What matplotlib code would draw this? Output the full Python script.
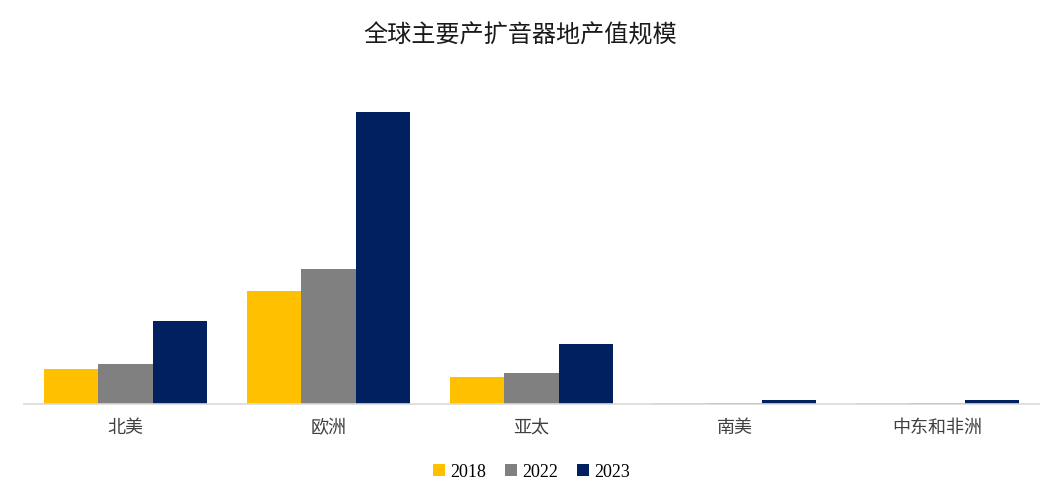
import matplotlib
matplotlib.use("Agg")
import matplotlib.pyplot as plt
import numpy as np

categories = ["北美", "欧洲", "亚太", "南美", "中东和非洲"]
series_names = ["2018", "2022", "2023"]
v2018 = [35, 113, 27, 1.2, 1.2]
v2022 = [40, 135, 31, 0.8, 0.8]
v2023 = [83, 292, 60, 4.0, 4.0]
colors = ["#FFC000", "#808080", "#002060"]

plt.rcParams['font.family'] = ['Noto Sans CJK SC', 'DejaVu Sans']

fig = plt.figure(figsize=(10.63, 5.02), dpi=100)
ax = fig.add_axes([0.0226, 0.193, 0.9548, 0.614])

x = np.arange(len(categories))
w = 0.267
for i, (vals, name, c) in enumerate(zip([v2018, v2022, v2023], series_names, colors)):
    ax.bar(x + (i - 1) * w, vals, width=w, color=c, label=name)

ax.set_xlim(-0.5, len(categories) - 0.5)
ax.set_ylim(0, 308)
ax.set_yticks([])
ax.set_xticks(x)
ax.set_xticklabels(categories, fontsize=13, color="#404040")
ax.tick_params(axis='x', length=0, pad=10)
for s in ["top", "right", "left"]:
    ax.spines[s].set_visible(False)
ax.spines["bottom"].set_color("#D9D9D9")
ax.spines["bottom"].set_linewidth(1.2)

fig.text(0.489, 0.93, "全球主要产扩音器地产值规模", fontsize=17.4, ha="center", va="center", color="#1a1a1a")

leg = fig.legend(loc="center", bbox_to_anchor=(0.5, 0.058), ncol=3, frameon=False,
                 handlelength=0.7, handleheight=0.7, handletextpad=0.3, columnspacing=1.0,
                 prop={'family': ['Liberation Serif'], 'size': 13})

fig.savefig("out.png", dpi=100)
